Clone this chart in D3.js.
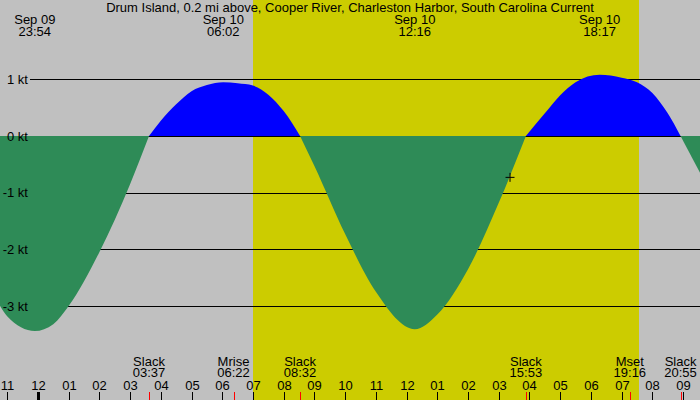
<!DOCTYPE html>
<html><head><meta charset="utf-8">
<script src="https://cdn.jsdelivr.net/npm/d3@7"></script>
<style>
html,body{margin:0;padding:0;background:#c0c0c0;}
svg{display:block;}
text{font-family:"Liberation Sans",Arial,sans-serif;font-size:13px;fill:#000;}
</style></head>
<body>
<svg id="c" width="700" height="400"></svg>
<script>
// ---- data ----
const title = "Drum Island, 0.2 mi above, Cooper River, Charleston Harbor, South Carolina Current";
const domainStart = "2024-09-09 22:46";
const domainEnd = "2024-09-10 21:33";
const sunrise = "2024-09-10 07:00";
const sunset = "2024-09-10 19:34";
const times = [
  "2024-09-09 22:45","2024-09-09 23:00","2024-09-09 23:54","2024-09-10 00:30",
  "2024-09-10 01:00","2024-09-10 02:00","2024-09-10 03:00","2024-09-10 03:37",
  "2024-09-10 04:00","2024-09-10 04:30","2024-09-10 05:00","2024-09-10 05:30",
  "2024-09-10 06:02","2024-09-10 06:30","2024-09-10 07:00","2024-09-10 07:30",
  "2024-09-10 08:00","2024-09-10 08:32","2024-09-10 09:00","2024-09-10 10:00",
  "2024-09-10 11:00","2024-09-10 12:16","2024-09-10 13:00","2024-09-10 14:00",
  "2024-09-10 15:00","2024-09-10 15:53","2024-09-10 16:30","2024-09-10 17:00",
  "2024-09-10 17:30","2024-09-10 18:17","2024-09-10 19:00","2024-09-10 19:30",
  "2024-09-10 20:00","2024-09-10 20:30","2024-09-10 20:55","2024-09-10 21:33"
];
const speeds = [
  -2.98,-3.18,-3.44,-3.32,
  -3.00,-2.05,-0.85,0,
  0.27,0.56,0.79,0.90,
  0.95,0.93,0.89,0.73,
  0.44,0,-0.53,-1.73,
  -2.75,-3.41,-3.15,-2.35,
  -1.18,0,0.40,0.72,
  0.95,1.08,1.03,0.95,
  0.76,0.40,0,-0.65
];
const yTicks = [1,0,-1,-2,-3];
const extremeDates = ["Sep 09","Sep 10","Sep 10","Sep 10"];
const extremeTimes = ["2024-09-09 23:54","2024-09-10 06:02","2024-09-10 12:16","2024-09-10 18:17"];
const eventNames = ["Slack","Mrise","Slack","Slack","Mset","Slack"];
const eventTimes = ["2024-09-10 03:37","2024-09-10 06:22","2024-09-10 08:32","2024-09-10 15:53","2024-09-10 19:16","2024-09-10 20:55"];
const nowTime = "2024-09-10 15:22";
const nowValue = -0.73;

// ---- chart ----
const parse = d3.timeParse("%Y-%m-%d %H:%M");
const fmt = d3.timeFormat("%H:%M");
const W = 700, H = 400;
const svg = d3.select("#c");
const x = d3.scaleTime().domain([parse(domainStart), parse(domainEnd)]).range([0, W]);
const y = d3.scaleLinear().domain([0, 1]).range([136, 79.33]);
const data = times.map((t, i) => ({t: parse(t), v: speeds[i]}));
const y0 = y(0);

svg.append("rect").attr("x",0).attr("y",0).attr("width",W).attr("height",H).attr("fill","#c0c0c0");
const xs = Math.round(x(parse(sunrise))), xe = Math.round(x(parse(sunset)));
svg.append("rect").attr("x",xs).attr("y",0).attr("width",xe-xs).attr("height",H).attr("fill","#cccc00");

// grid lines
svg.append("g").selectAll("line").data(yTicks).join("line")
  .attr("x1",30).attr("x2",W)
  .attr("y1",d=>Math.round(y(d))+0.5).attr("y2",d=>Math.round(y(d))+0.5)
  .attr("stroke","#000").attr("stroke-width",1).attr("shape-rendering","crispEdges");

// split series into flood / ebb segments at slack (zero) points
const segments = [];
let cur = [];
data.forEach(d => {
  cur.push(d);
  if (d.v === 0 && cur.length > 1) { segments.push(cur); cur = [d]; }
});
if (cur.length > 1) segments.push(cur);

const area = d3.area().curve(d3.curveMonotoneX).x(d=>x(d.t)).y0(y0).y1(d=>y(d.v));
svg.append("g").selectAll("path").data(segments).join("path")
  .attr("d", area)
  .attr("fill", s => d3.sum(s, d=>d.v) > 0 ? "#0000ff" : "#2e8b57");

// y labels
svg.append("g").selectAll("text").data(yTicks).join("text")
  .attr("x",28).attr("y",d=>y(d)).attr("dy","0.35em").attr("text-anchor","end")
  .text(d=>d+" kt");

// title
svg.append("text").attr("x",W/2).attr("y",12).attr("text-anchor","middle").text(title);

// extremes
const ex = svg.append("g").selectAll("text").data(extremeTimes).join("text")
  .attr("text-anchor","middle").attr("y",24);
ex.append("tspan").attr("x",d=>x(parse(d))).text((d,i)=>extremeDates[i]);
ex.append("tspan").attr("x",d=>x(parse(d))).attr("dy",12).text(d=>fmt(parse(d)));

// events
const ev = svg.append("g").selectAll("text").data(eventTimes).join("text")
  .attr("text-anchor","middle").attr("y",366);
ev.append("tspan").attr("x",d=>x(parse(d))).text((d,i)=>eventNames[i]);
ev.append("tspan").attr("x",d=>x(parse(d))).attr("dy",11).text(d=>fmt(parse(d)));
svg.append("g").selectAll("line").data(eventTimes).join("line")
  .attr("x1",d=>Math.round(x(parse(d)))+0.5).attr("x2",d=>Math.round(x(parse(d)))+0.5)
  .attr("y1",392).attr("y2",400).attr("stroke","#ff0000").attr("stroke-width",1);

// hour axis
const hours = d3.timeHour.range(d3.timeHour.ceil(parse(domainStart)), parse(domainEnd));
const hg = svg.append("g").selectAll("g").data(hours).join("g")
  .attr("transform",d=>`translate(${Math.round(x(d))+0.5},0)`);
hg.append("text").attr("y",389.5).attr("text-anchor","middle").text(d=>d3.timeFormat("%I")(d));
hg.append("line").attr("y1",392).attr("y2",400).attr("stroke","#000")
  .attr("stroke-width",d=>d.getHours()===0?3:1);

// current marker
const cx = x(parse(nowTime)), cy = y(nowValue);
svg.append("path").attr("d",`M${cx-4.5},${cy}H${cx+4.5}M${cx},${cy-4.5}V${cy+4.5}`)
  .attr("stroke","#000").attr("stroke-width",1).attr("fill","none");
</script>
</body></html>
